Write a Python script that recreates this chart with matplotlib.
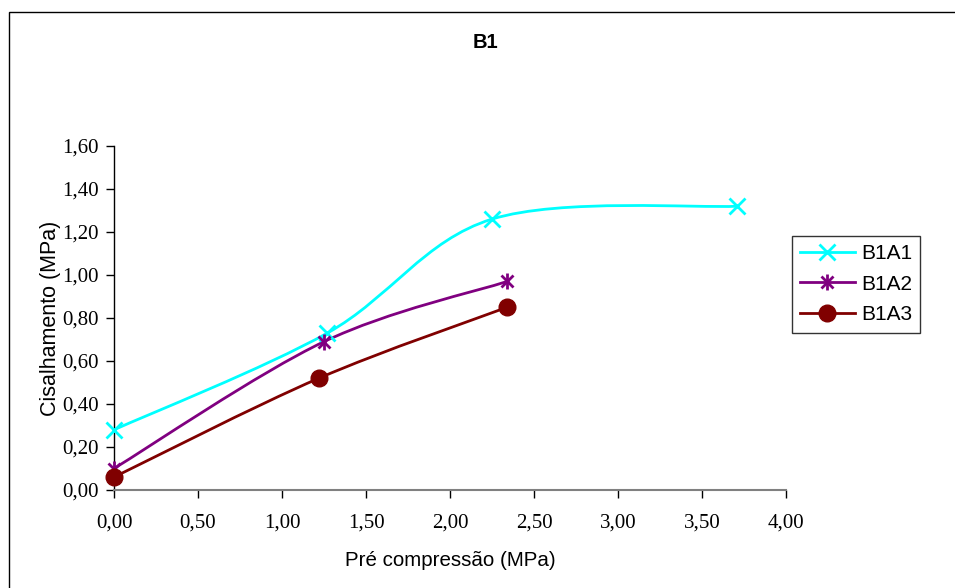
import matplotlib
matplotlib.use('agg')
import matplotlib.pyplot as plt
from matplotlib.path import Path
from matplotlib.patches import PathPatch, Rectangle
from matplotlib.lines import Line2D

########################################################################
# data -------------------------------------------------------------------
########################################################################
names = ['B1A1', 'B1A2', 'B1A3']
x_B1A1 = [0.00, 1.27, 2.25, 3.71]
y_B1A1 = [0.28, 0.73, 1.26, 1.32]
x_B1A2 = [0.00, 1.25, 2.34]
y_B1A2 = [0.10, 0.69, 0.97]
x_B1A3 = [0.00, 1.22, 2.34]
y_B1A3 = [0.06, 0.52, 0.85]
xticks = [0, 0.5, 1, 1.5, 2, 2.5, 3, 3.5, 4]
yticks = [0, 0.2, 0.4, 0.6, 0.8, 1.0, 1.2, 1.4, 1.6]

colors = ['#00FFFF', '#800080', '#800000']
serif = 'Liberation Serif'
sans = 'Liberation Sans'

#--------------- --------------- --------------- ---------------
def smooth_path(xs, ys):
    # excel like smoothed line: cubic bezier, control points from neighbours
    n = len(xs)
    verts = [(xs[0], ys[0])]
    codes = [Path.MOVETO]
    for i in range(n - 1):
        x0, y0 = (xs[i-1], ys[i-1]) if i > 0 else (xs[i], ys[i])
        x3, y3 = (xs[i+2], ys[i+2]) if i + 2 < n else (xs[i+1], ys[i+1])
        c1 = (xs[i] + (xs[i+1] - x0) / 6., ys[i] + (ys[i+1] - y0) / 6.)
        c2 = (xs[i+1] - (x3 - xs[i]) / 6., ys[i+1] - (y3 - ys[i]) / 6.)
        verts += [c1, c2, (xs[i+1], ys[i+1])]
        codes += [Path.CURVE4] * 3
    return Path(verts, codes)

fig = plt.figure(figsize=(9.55, 5.88), dpi=100)
ax = fig.add_axes([114/955., 98/588., 672/955., 344/588.])

series = [(x_B1A1, y_B1A1), (x_B1A2, y_B1A2), (x_B1A3, y_B1A3)]
for k, (xs, ys) in enumerate(series):
    ax.add_patch(PathPatch(smooth_path(xs, ys), fill=False, edgecolor=colors[k],
                           lw=2.0, clip_on=False, zorder=2))

ax.plot(x_B1A1, y_B1A1, ls='none', marker='x', ms=11, mew=2, color=colors[0], clip_on=False, zorder=3)
ax.plot(x_B1A2, y_B1A2, ls='none', marker='x', ms=9, mew=2, color=colors[1], clip_on=False, zorder=3)
ax.plot(x_B1A2, y_B1A2, ls='none', marker='|', ms=11, mew=2, color=colors[1], clip_on=False, zorder=3)
ax.plot(x_B1A3, y_B1A3, ls='none', marker='o', ms=12, color=colors[2], clip_on=False, zorder=3)

ax.set_xlim(0, 4)
ax.set_ylim(0, 1.6)
ax.set_xticks(xticks)
ax.set_yticks(yticks)
# decimal comma like the original
ax.set_xticklabels([('%.2f' % v).replace('.', ',') for v in xticks], fontname=serif, fontsize=15)
ax.set_yticklabels([('%.2f' % v).replace('.', ',') for v in yticks], fontname=serif, fontsize=15)

ax.spines['top'].set_visible(False)
ax.spines['right'].set_visible(False)
ax.spines['left'].set_color('black')
ax.spines['bottom'].set_color('#808080')
ax.spines['left'].set_linewidth(1.0)
ax.spines['bottom'].set_linewidth(1.5)
ax.tick_params(axis='y', direction='out', length=6, width=1, pad=5)
ax.tick_params(axis='x', direction='out', length=6, width=1, pad=11)

ax.set_xlabel('Pré compressão (MPa)', fontname=sans, fontsize=14.8, labelpad=13)
ax.set_ylabel('Cisalhamento (MPa)', fontname=sans, fontsize=15.5, labelpad=1)
fig.text(485/955., 1 - 42/588., 'B1', ha='center', va='center',
         fontname=sans, fontweight='bold', fontsize=14.5)

handles = [Line2D([], [], color=colors[0], lw=2, marker='x', ms=11, mew=2),
           (Line2D([], [], color=colors[1], lw=2, marker='x', ms=9, mew=2),
            Line2D([], [], color=colors[1], lw=0, marker='|', ms=11, mew=2)),
           Line2D([], [], color=colors[2], lw=2, marker='o', ms=12)]
leg = fig.legend(handles, names, loc='upper left',
                 bbox_to_anchor=(792/955., 1 - 236/588.),
                 prop={'family': sans, 'size': 15},
                 frameon=True, fancybox=False, edgecolor='black',
                 handlelength=2.6, handletextpad=0.3, borderpad=0.4,
                 labelspacing=0.55, borderaxespad=0)
leg.get_frame().set_linewidth(1.0)

# outer chart border, runs off the right and bottom edge
fig.patches.append(Rectangle((9/955., -0.1), 1.2, 1 - 12/588. + 0.1,
                             transform=fig.transFigure, fill=False,
                             edgecolor='black', lw=1.0))

fig.savefig('out.png', dpi=100)
